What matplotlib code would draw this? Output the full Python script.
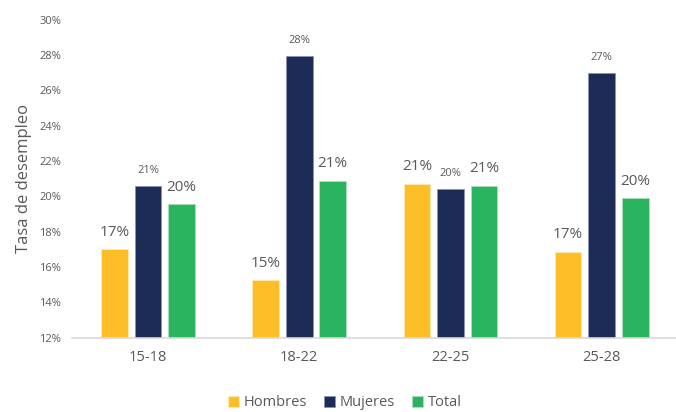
import numpy as np
import matplotlib
matplotlib.use("Agg")
from matplotlib import pyplot as plt
from matplotlib.ticker import FuncFormatter

# data
groups = ["15-18", "18-22", "22-25", "25-28"]
hombres = [17.0, 15.25, 20.7, 16.85]
mujeres = [20.6, 27.95, 20.45, 27.0]
total = [19.55, 20.88, 20.6, 19.9]

series = ["Hombres", "Mujeres", "Total"]
colors = ["#FDBE28", "#1D2B57", "#2AB45F"]
label_sizes = [11, 8, 11]
edge_colors = ["#FFE9B0", "#8A93B5", "#A9E2BE"]

plt.rcParams["font.family"] = ["Open Sans", "DejaVu Sans"]
grey = "#595959"

fig = plt.figure(figsize=(6.76, 4.12), dpi=100)
ax = fig.add_axes([0.107, 0.18, 0.895, 0.772])

x = np.arange(len(groups))
width = 0.176
pitch = 0.222
for i, (name, vals) in enumerate(zip(series, [hombres, mujeres, total])):
    xs = x + (i - 1) * pitch
    ax.bar(xs, np.array(vals) - 12, bottom=12, width=width, color=colors[i],
           edgecolor=edge_colors[i], linewidth=0.6, label=name)
    for xi, v in zip(xs, vals):
        ax.text(xi, v + 0.55, f"{round(v):.0f}%", ha="center", va="bottom",
                fontsize=label_sizes[i], color=grey)

ax.set_xlim(-0.5, 3.5)
ax.set_ylim(12, 30)
ax.set_yticks(np.arange(12, 31, 2))
ax.yaxis.set_major_formatter(FuncFormatter(lambda v, p: f"{v:.0f}%"))
ax.set_xticks(x)
ax.set_xticklabels(groups, fontsize=10.5, color=grey)
ax.tick_params(axis="y", labelsize=8, colors=grey, length=0, pad=8)
ax.tick_params(axis="x", length=0, pad=9)
for s in ["top", "right", "left"]:
    ax.spines[s].set_visible(False)
ax.spines["bottom"].set_color("#D9D9D9")
ax.spines["bottom"].set_linewidth(1.2)

ax.set_ylabel("Tasa de desempleo", fontsize=12, color=grey, labelpad=5)

leg = fig.legend(loc="lower center", bbox_to_anchor=(0.51, -0.028), ncol=3,
                 frameon=False, fontsize=10.5, handlelength=0.75,
                 handleheight=0.75, handletextpad=0.3, columnspacing=1.2)
for t in leg.get_texts():
    t.set_color(grey)

fig.savefig("out.png", dpi=100)
